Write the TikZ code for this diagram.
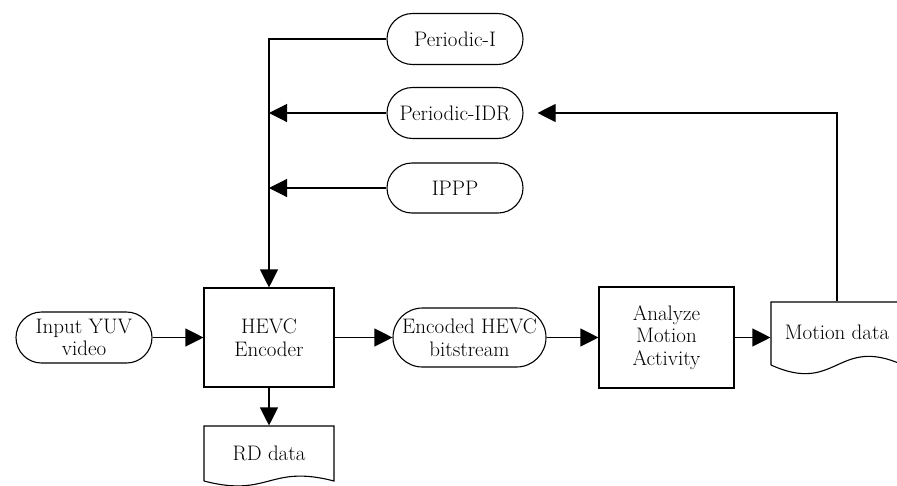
\documentclass[tikz,border=0pt]{standalone}
\usepackage{fontspec}
\usetikzlibrary{arrows.meta,shapes.misc}
\begin{document}
\begin{tikzpicture}[x=1pt,y=-1pt,
  line width=1.1pt,
  every node/.style={font=\fontsize{21}{22.5}\selectfont, align=center, inner sep=0pt},
  term/.style={rounded rectangle, draw, minimum width=136pt, minimum height=51pt},
  proc/.style={rectangle, draw},
  doclabel/.style={rectangle},
  arr/.style={-{Triangle[length=18pt,width=18pt]}}
]
\useasboundingbox (0,0) rectangle (897,485);
\begin{scope}
\clip (0,0) rectangle (897,485);
% terminals
\node[term] (pi) at (455,39) {Periodic-I};
\node[term] (pidr) at (455,113) {Periodic-IDR};
\node[term, minimum height=50pt] (ippp) at (455,188) {IPPP};
\node[term] (input) at (84,337.5) {Input YUV\\video};
\node[proc, minimum width=130pt, minimum height=99pt] (hevc) at (269,337.5) {HEVC\\Encoder};
\node[term, minimum width=153pt, minimum height=59pt] (enc) at (469.5,337.5) {Encoded HEVC\\bitstream};
\node[proc, minimum width=135pt, minimum height=101pt] (ana) at (666.5,337.5) {Analyze\\Motion\\Activity};
% documents
\node[doclabel, minimum width=130pt, minimum height=54pt] (rd) at (269,453) {RD data};
\draw (204,481) -- (204,426) -- (334,426) -- (334,481)
  .. controls (269,464) and (269,498) .. (204,481);
\node[doclabel, minimum width=132pt, minimum height=63pt] (motion) at (837,333.5) {\raisebox{3pt}{Motion data}};
\draw (771,365) -- (771,302) -- (903,302) -- (903,365)
  .. controls (837,335) and (837,395) .. (771,365);
% connectors
\draw[arr] (pi.west) -| (hevc.north);
\draw[arr] (pidr.west) -- (pidr.west -| hevc.north);
\draw[arr] (ippp.west) -- (ippp.west -| hevc.north);
\draw[arr] (input.east) -- (hevc.west);
\draw[arr] (hevc.east) -- (enc.west);
\draw[arr] (enc.east) -- (ana.west);
\draw[arr] (ana.east) -- (ana.east -| motion.west);
\draw[arr] (hevc.south) -- (rd.north);
\coordinate (fb) at ([xshift=14pt]pidr.east);
\draw[arr] (motion.north) |- (fb);
\end{scope}
\end{tikzpicture}
\end{document}
